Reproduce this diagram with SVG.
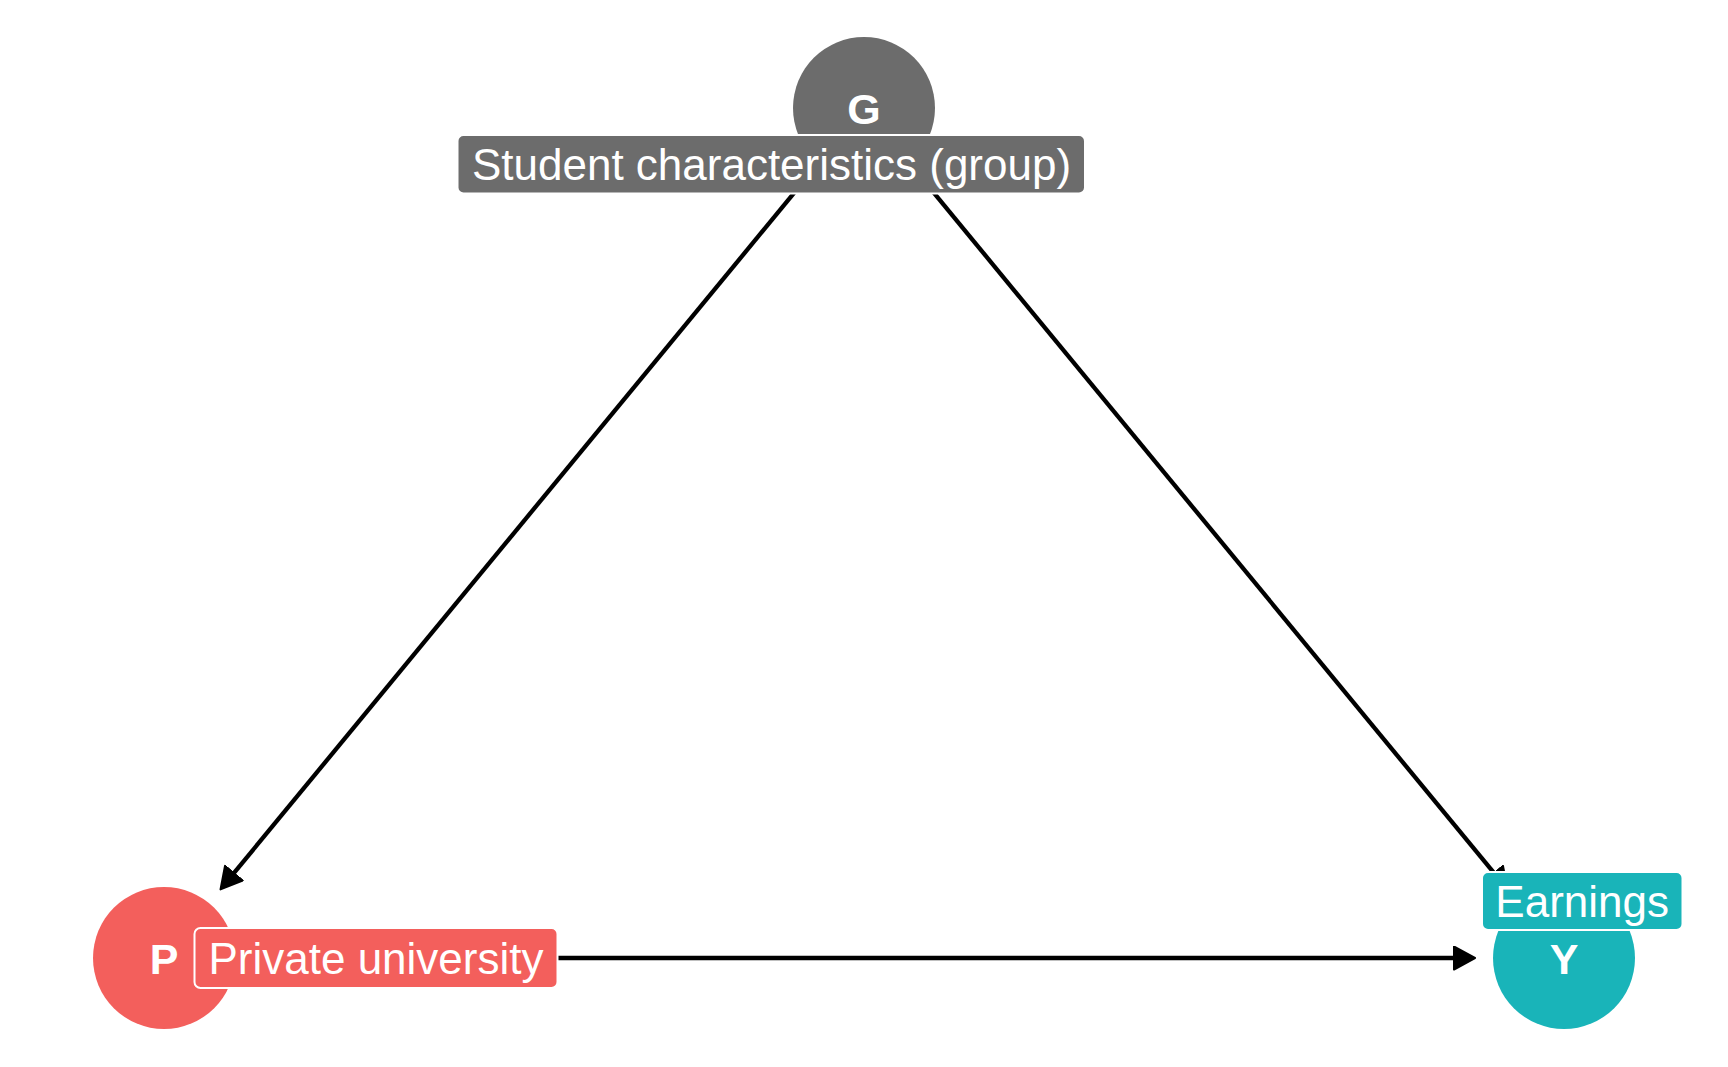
<svg xmlns="http://www.w3.org/2000/svg" width="1728" height="1067" viewBox="0 0 1728 1067">
  <style>
    .edge { stroke: #000000; stroke-width: 4.3; fill: none; marker-end: url(#arrow); }
    .node-letter { font-family: "Liberation Sans", Arial, sans-serif; font-weight: bold; font-size: 43px; fill: #FFFFFF; text-anchor: middle; }
    .label-box { stroke: #FFFFFF; stroke-width: 2; }
    .label-text { font-family: "Liberation Sans", Arial, sans-serif; font-size: 44px; fill: #FFFFFF; text-anchor: middle; }
    .g-fill { fill: #6C6C6C; }
    .p-fill { fill: #F35F5C; }
    .y-fill { fill: #19B4B9; }
  </style>
  <defs>
    <marker id="arrow" markerUnits="userSpaceOnUse" markerWidth="30" markerHeight="30" viewBox="0 0 30 30" refX="3" refY="12.5" orient="auto">
      <path d="M1,1 L22,12.5 L1,24 Z" fill="#000000" stroke="#000000" stroke-width="2" stroke-linejoin="round"/>
    </marker>
  </defs>
  <rect x="0" y="0" width="1728" height="1067" fill="#FFFFFF"/>

  <g id="edges">
    <line class="edge" x1="808.1" y1="175.9" x2="232.6" y2="874.7"/>
    <line class="edge" x1="919.9" y1="175.9" x2="1495.4" y2="874.7"/>
    <line class="edge" x1="252" y1="958" x2="1456" y2="958"/>
  </g>

  <g id="node-G">
    <circle class="g-fill" cx="864" cy="108" r="71"/>
    <text class="node-letter" x="864" y="123.5">G</text>
  </g>
  <g id="node-P">
    <circle class="p-fill" cx="164" cy="958" r="71"/>
    <text class="node-letter" x="164" y="973.5">P</text>
  </g>
  <g id="node-Y">
    <circle class="y-fill" cx="1564" cy="958" r="71"/>
    <text class="node-letter" x="1564" y="973.5">Y</text>
  </g>

  <g id="label-G">
    <rect class="label-box g-fill" x="457.5" y="135" width="627.5" height="58.5" rx="6"/>
    <text class="label-text" x="771.5" y="180">Student characteristics (group)</text>
  </g>
  <g id="label-P">
    <rect class="label-box p-fill" x="194.5" y="928" width="363" height="60" rx="6"/>
    <text class="label-text" x="376" y="974">Private university</text>
  </g>
  <g id="label-Y">
    <rect class="label-box y-fill" x="1482" y="872" width="200.5" height="58" rx="6"/>
    <text class="label-text" x="1582.2" y="917">Earnings</text>
  </g>
</svg>
